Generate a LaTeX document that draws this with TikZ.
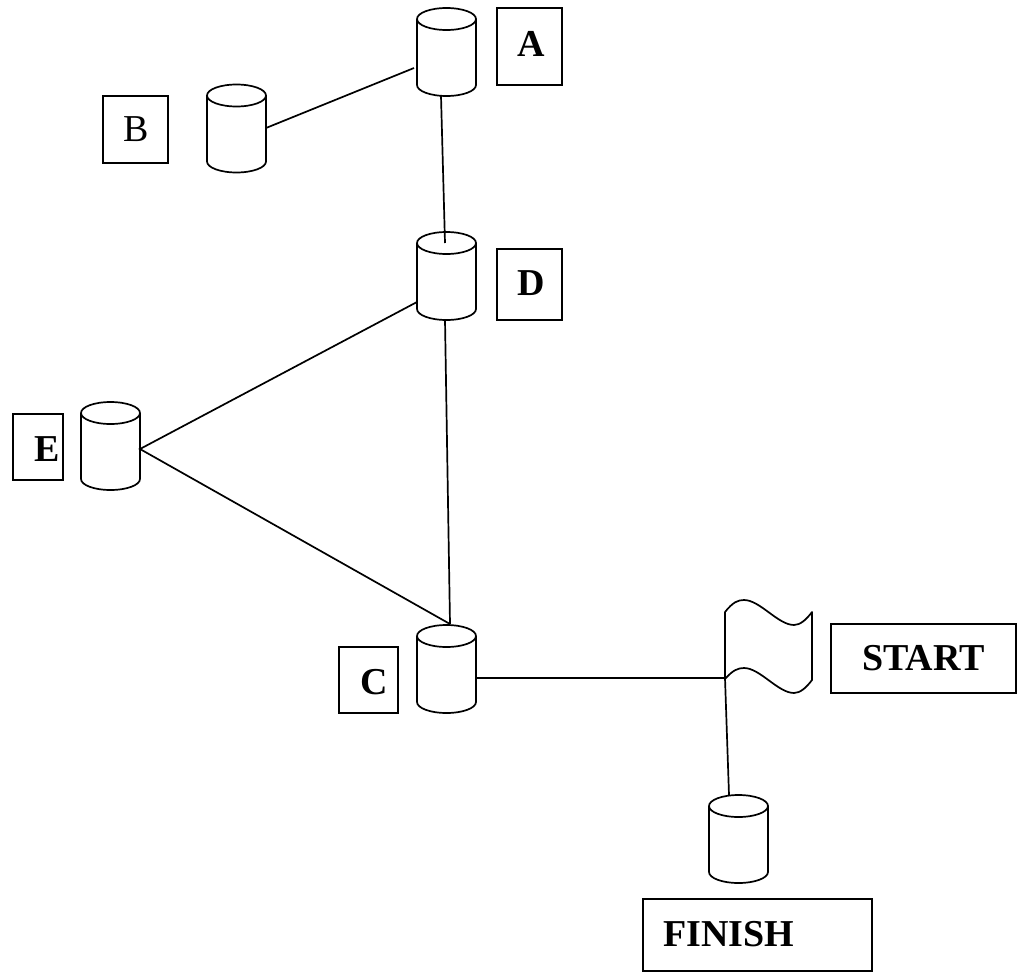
\documentclass[tikz,border=0pt]{standalone}
\usepackage{fontspec}
\setmainfont{Liberation Serif}
\usetikzlibrary{calc}
\tikzset{
  px/.style={x=1pt,y=-1pt},
  ln/.style={draw=black,line width=1.7pt},
  canbase/.style={shape=rectangle,minimum width=59pt,minimum height=88pt,inner sep=0pt,outer sep=0pt},
  lab/.style={ln,shape=rectangle,inner sep=0pt,outer sep=0pt,anchor=center,font=\fontsize{38pt}{38pt}\selectfont\bfseries},
  labn/.style={lab,font=\fontsize{38pt}{38pt}\selectfont},
}
\newcommand{\mycan}[2]{%
  \node[canbase] (#1) at (#2) {};
  \draw[ln] ([yshift=-11pt]#1.north) ellipse [x radius=29.5pt,y radius=11pt];
  \draw[ln] ([yshift=-11pt]#1.north west) -- ([yshift=11pt]#1.south west)
    arc[start angle=180,end angle=360,x radius=29.5pt,y radius=11pt]
    -- ([yshift=-11pt]#1.north east);
}
\begin{document}
\begin{tikzpicture}[px]
\useasboundingbox (0,0) rectangle (1022,972);
% cylinders
\mycan{cA}{446.5,52}
\mycan{cB}{236.5,128.5}
\mycan{cD}{446.5,276}
\mycan{cE}{110.5,446}
\mycan{cC}{446.5,669}
\mycan{cF}{738.5,839}
% labels
\node[lab,minimum width=65pt,minimum height=77pt] (lA) at (529.5,46.5) {\kern4pt\raisebox{6pt}{A}};
\node[labn,minimum width=65pt,minimum height=67pt] (lB) at (135.5,129.5) {\kern2pt B};
\node[lab,minimum width=65pt,minimum height=71pt] (lD) at (529.5,284.5) {\kern4pt\raisebox{3pt}{D}};
\node[lab,minimum width=50pt,minimum height=66pt] (lE) at (38,447) {\kern19pt\raisebox{0pt}[\dimexpr\height+4pt\relax]{E}};
\node[lab,minimum width=59pt,minimum height=66pt] (lC) at (368.5,680) {\kern12pt\raisebox{0pt}[\dimexpr\height+4pt\relax]{C}};
\node[lab,minimum width=185pt,minimum height=69pt] (lS) at (923.5,658.5) {START};
\node[lab,minimum width=229pt,minimum height=72pt] (lF) at (757.5,935) {\raisebox{2pt}{FINISH}\kern58pt};
% flag
\coordinate (fl) at (725,678);
\draw[ln,line join=round] (725,612)
  .. controls (733,602) and (738,600) .. (744,600)
  .. controls (760,600) and (778,625) .. (794,625)
  .. controls (800,625) and (806,620) .. (812,612)
  -- (812,680)
  .. controls (806,688) and (800,693) .. (794,693)
  .. controls (778,693) and (760,668) .. (744,668)
  .. controls (738,668) and (733,670) .. (725,679)
  -- cycle;
% connector ends
\coordinate (b1) at (266,128);
\coordinate (a1) at (414,68);
\coordinate (a2) at (441,96);
\coordinate (d1) at (445,243);
\coordinate (d2) at (417,302);
\coordinate (d3) at (445,320);
\coordinate (e1) at (140,449);
\coordinate (c1) at (450,624);
\coordinate (c2) at (476,678);
\coordinate (f1) at (729,795);
\draw[ln] (b1) -- (a1);
\draw[ln] (a2) -- (d1);
\draw[ln] (d2) -- (e1) -- (c1);
\draw[ln] (d3) -- (c1);
\draw[ln] (c2) -- (fl) -- (f1);
\end{tikzpicture}
\end{document}
